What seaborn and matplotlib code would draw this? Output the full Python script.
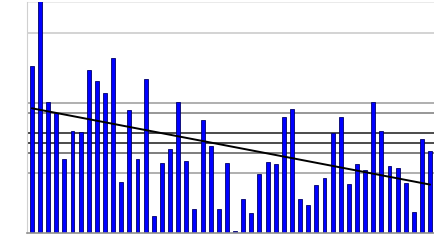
import numpy as np
import pandas as pd
import matplotlib
matplotlib.use("Agg")
import matplotlib.pyplot as plt
import seaborn as sns

# Bar values (one bar per period)
values = [16.7, 24.0, 13.1, 12.0, 7.4, 10.2, 10.1, 16.3, 15.2, 14.0,
          17.5, 5.1, 12.3, 7.4, 15.4, 1.7, 7.0, 8.4, 13.1, 7.2,
          2.4, 11.3, 8.7, 2.4, 7.0, 0.2, 3.4, 2.0, 5.9, 7.1,
          6.9, 11.6, 12.4, 3.4, 2.8, 4.8, 5.5, 10.0, 11.6, 4.9,
          6.9, 6.3, 13.1, 10.2, 6.7, 6.5, 5.0, 2.1, 9.4, 8.2]
periods = list(range(len(values)))

# horizontal reference lines and their shades
grid_levels = [23.1, 20, 13, 12, 10, 9, 8, 6]
grid_colors = ["#e4e4e4", "#c8c8c8", "#9a9a9a", "#7a7a7a", "#1a1a1a", "#1a1a1a", "#5a5a5a", "#9a9a9a"]

df = pd.DataFrame({"period": periods, "value": values})

sns.set_style("white")
W, H = 435, 252
fig = plt.figure(figsize=(W / 100, H / 100), dpi=100)
left, right, top, bottom = 27, 435, 2, 233
ax = fig.add_axes([left / W, 1 - bottom / H, (right - left) / W, (bottom - top) / H])

for lvl, col in zip(grid_levels, grid_colors):
    ax.axhline(lvl, color=col, lw=1.1, zorder=0)

sns.barplot(data=df, x="period", y="value", color="#0000ff", saturation=1,
            width=0.48, edgecolor="#00006a", linewidth=0.6, ax=ax, zorder=2)

sns.regplot(data=df, x="period", y="value", scatter=False, ci=None,
            line_kws={"color": "black", "lw": 1.4, "zorder": 3}, ax=ax)

ax.set_xlim(-0.6, 49.6)
ax.set_ylim(0, 23.1)
ax.set_xlabel("")
ax.set_ylabel("")
ax.set_xticks(periods)
ax.set_xticklabels([])
ax.set_yticks(np.arange(0, 24, 1))
ax.set_yticklabels([])
ax.tick_params(axis="both", length=2, width=0.8, color="#bbbbbb", direction="out")
for t, v in zip(ax.yaxis.get_major_ticks(), np.arange(0, 24, 1)):
    if v == 3:
        t.tick1line.set_color("#111111")
        t.tick1line.set_markersize(4)
for sp in ["top", "right"]:
    ax.spines[sp].set_visible(False)
ax.spines["left"].set_color("#d0d0d0")
ax.spines["bottom"].set_color("#909090")
ax.spines["bottom"].set_linewidth(1.2)

fig.savefig("out.png", dpi=100)
